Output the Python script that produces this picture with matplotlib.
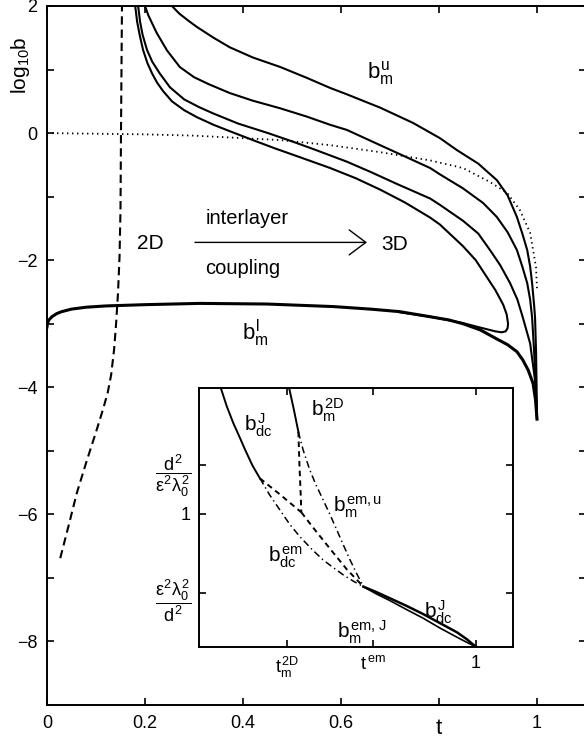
import matplotlib
matplotlib.use('Agg')
import matplotlib.pyplot as plt
from matplotlib.transforms import blended_transform_factory

plt.rcParams['font.family'] = ['Liberation Sans', 'DejaVu Sans']
plt.rcParams['mathtext.fontset'] = 'custom'
plt.rcParams['mathtext.rm'] = 'Liberation Sans'
plt.rcParams['mathtext.it'] = 'Liberation Sans'
plt.rcParams['mathtext.bf'] = 'Liberation Sans:bold'
plt.rcParams['mathtext.sf'] = 'Liberation Sans'
plt.rcParams['lines.scale_dashes'] = False

# ---------------- main panel data (t, log10 b) ----------------
curve_a_t = [0.180, 0.184, 0.189, 0.196, 0.205, 0.215, 0.225, 0.237, 0.255, 0.280,
             0.306, 0.340, 0.373, 0.420, 0.465, 0.520, 0.578, 0.630, 0.680, 0.730,
             0.782, 0.802, 0.849, 0.875, 0.898, 0.915, 0.931, 0.938, 0.941, 0.940,
             0.936, 0.928, 0.915, 0.884, 0.849, 0.782, 0.720]
curve_a_y = [2.0, 1.75, 1.55, 1.31, 1.10, 0.93, 0.79, 0.66, 0.50, 0.36,
             0.25, 0.13, 0.03, -0.11, -0.24, -0.39, -0.55, -0.71, -0.89, -1.09,
             -1.33, -1.44, -1.78, -2.00, -2.27, -2.47, -2.70, -2.85, -3.00, -3.07,
             -3.12, -3.135, -3.12, -3.06, -2.99, -2.89, -2.82]

curve_b_t = [0.186, 0.190, 0.195, 0.204, 0.215, 0.230, 0.251, 0.280, 0.310, 0.339,
             0.390, 0.451, 0.500, 0.543, 0.612, 0.660, 0.714, 0.782, 0.802, 0.849,
             0.880, 0.904, 0.925, 0.945, 0.960, 0.971, 0.986, 0.996, 1.0]
curve_b_y = [2.0, 1.75, 1.55, 1.31, 1.12, 0.94, 0.72, 0.53, 0.41, 0.31,
             0.15, 0.0, -0.13, -0.25, -0.45, -0.61, -0.80, -1.03, -1.13, -1.38,
             -1.58, -1.84, -2.08, -2.36, -2.62, -2.90, -3.31, -3.89, -4.5]

curve_c_t = [0.200, 0.207, 0.215, 0.224, 0.245, 0.271, 0.300, 0.330, 0.373, 0.420,
             0.476, 0.530, 0.578, 0.612, 0.660, 0.714, 0.782, 0.802, 0.849, 0.890,
             0.918, 0.940, 0.959, 0.970, 0.980, 0.986, 0.990, 0.994, 0.997, 1.0]
curve_c_y = [2.0, 1.85, 1.72, 1.575, 1.30, 1.04, 0.88, 0.77, 0.63, 0.51,
             0.39, 0.26, 0.13, 0.05, -0.12, -0.31, -0.55, -0.65, -0.87, -1.10,
             -1.32, -1.56, -1.84, -2.10, -2.36, -2.62, -2.90, -3.42, -3.90, -4.5]

curve_d_t = [0.255, 0.270, 0.290, 0.306, 0.340, 0.373, 0.420, 0.476, 0.530, 0.578,
             0.612, 0.680, 0.747, 0.802, 0.837, 0.880, 0.918, 0.940, 0.959, 0.970,
             0.980, 0.986, 0.990, 0.994, 0.996, 0.998, 0.999, 1.0]
curve_d_y = [2.0, 1.88, 1.76, 1.67, 1.50, 1.35, 1.19, 1.04, 0.87, 0.71,
             0.61, 0.40, 0.16, -0.08, -0.27, -0.48, -0.74, -0.98, -1.32, -1.58,
             -1.84, -2.10, -2.36, -2.70, -2.90, -3.42, -3.90, -4.5]

bml_t = [0.0, 0.001, 0.004, 0.010, 0.020, 0.030, 0.050, 0.080, 0.120, 0.200,
         0.312, 0.449, 0.584, 0.660, 0.720, 0.782, 0.820, 0.849, 0.885, 0.918,
         0.940, 0.959, 0.971, 0.982, 0.992, 0.997, 1.0]
bml_y = [-3.05, -2.99, -2.94, -2.89, -2.84, -2.81, -2.77, -2.74, -2.72, -2.70,
         -2.68, -2.69, -2.73, -2.77, -2.81, -2.89, -2.94, -3.00, -3.10, -3.24,
         -3.33, -3.44, -3.57, -3.73, -3.94, -4.20, -4.5]

b2d_t = [0.027, 0.044, 0.061, 0.081, 0.101, 0.115, 0.124, 0.131, 0.137, 0.141,
         0.145, 0.148, 0.150, 0.151, 0.152, 0.153]
b2d_y = [-6.69, -6.18, -5.66, -5.16, -4.68, -4.33, -4.08, -3.80, -3.40, -3.00,
         -2.50, -1.95, -1.20, 0.0, 1.0, 2.0]

dot_t = [0.0, 0.1, 0.2, 0.3, 0.4, 0.476, 0.578, 0.680, 0.782, 0.849, 0.904,
         0.939, 0.965, 0.986, 0.998, 1.0]
dot_y = [0.0, -0.01, -0.02, -0.04, -0.08, -0.11, -0.19, -0.30, -0.43, -0.55, -0.77,
         -0.94, -1.21, -1.57, -2.11, -2.45]

x_ticks = [0, 0.2, 0.4, 0.6, 0.8, 1.0]
x_ticklabels = ['0', '0.2', '0.4', '0.6', '', '1']
y_ticks = [-8, -7, -6, -5, -4, -3, -2, -1, 0, 1, 2]
y_ticklabels = ['\u22128', '', '\u22126', '', '\u22124', '', '\u22122', '', '0', '', '2']

# ---------------- inset data ----------------
in_bdcj1_x = [0.309, 0.325, 0.343, 0.360, 0.375, 0.395, 0.415]
in_bdcj1_y = [1.0, 0.93, 0.864, 0.81, 0.761, 0.70, 0.651]

in_b2d_x = [0.494, 0.507, 0.519]
in_b2d_y = [1.0, 0.915, 0.831]

in_dash_v_x = [0.519, 0.522, 0.525, 0.527]
in_dash_v_y = [0.831, 0.70, 0.60, 0.52]

in_dash_l_x = [0.415, 0.470, 0.527]
in_dash_l_y = [0.651, 0.588, 0.52]

in_dash_d_x = [0.527, 0.565, 0.610, 0.650, 0.695]
in_dash_d_y = [0.52, 0.45, 0.37, 0.30, 0.233]

in_emu_x = [0.519, 0.532, 0.550, 0.567, 0.586, 0.605, 0.623, 0.641, 0.659, 0.677, 0.695]
in_emu_y = [0.831, 0.76, 0.683, 0.625, 0.568, 0.51, 0.452, 0.393, 0.336, 0.283, 0.233]

in_dcem_x = [0.415, 0.440, 0.469, 0.495, 0.523, 0.555, 0.586, 0.615, 0.641, 0.668, 0.695]
in_dcem_y = [0.651, 0.59, 0.529, 0.475, 0.426, 0.378, 0.336, 0.305, 0.278, 0.254, 0.233]

in_bdcj2_x = [0.695, 0.730, 0.767, 0.810, 0.857, 0.900, 0.948, 0.975, 1.0]
in_bdcj2_y = [0.233, 0.212, 0.188, 0.160, 0.127, 0.094, 0.057, 0.030, 0.0]

in_emj_x = [0.695, 0.730, 0.767, 0.810, 0.857, 0.900, 0.948, 0.975, 1.0]
in_emj_y = [0.233, 0.205, 0.179, 0.146, 0.111, 0.075, 0.038, 0.018, 0.0]

in_x_ticks = [0.488, 0.721, 1.0]
in_x_ticklabels = [r'$t_m^{2D}$', r'$t^{\,em}$', '1']
in_y_ticks = [0.208, 0.514, 0.703]
in_y_ticklabels = [r'$\dfrac{\varepsilon^2\lambda_0^2}{d^2}$', '1',
                   r'$\dfrac{d^2}{\varepsilon^2\lambda_0^2}$']

# ---------------- figure ----------------
W, H = 584, 743
fig = plt.figure(figsize=(W / 100, H / 100), dpi=100)
ax = fig.add_axes([47 / W, 38 / H, 539 / W, 699 / H])

lw = 1.5
ax.plot(curve_a_t, curve_a_y, color='black', lw=lw)
ax.plot(curve_b_t, curve_b_y, color='black', lw=lw)
ax.plot(curve_c_t, curve_c_y, color='black', lw=lw)
ax.plot(curve_d_t, curve_d_y, color='black', lw=lw)
ax.plot(bml_t, bml_y, color='black', lw=2.2)
ax.plot(b2d_t, b2d_y, color='black', lw=1.5, linestyle=(0, (6, 3.5)))
ax.plot(dot_t, dot_y, color='black', lw=1.3, linestyle=(0, (1, 2.6)))

ax.set_xlim(0, 1.1)
ax.set_ylim(-9, 2)
ax.set_xticks(x_ticks)
ax.set_xticklabels(x_ticklabels)
ax.set_yticks(y_ticks)
ax.set_yticklabels(y_ticklabels)
ax.tick_params(direction='in', length=5, width=1.2, labelsize=13, pad=7,
               top=True, right=True)
for s in ax.spines.values():
    s.set_linewidth(1.4)

ax.set_ylabel(r'log$_{10}$b', fontsize=15)
ax.yaxis.set_label_coords(-0.028, 0.915)
trans = blended_transform_factory(ax.transData, ax.transAxes)
ax.text(0.8, -0.033, 't', transform=trans, fontsize=16, ha='center', va='center')

ax.text(0.68, 0.94, r'$b_m^u$', fontsize=16, ha='center', va='center')
ax.text(0.424, -3.15, r'$b_m^l$', fontsize=16, ha='center', va='center')
ax.text(0.21, -1.73, '2D', fontsize=15, ha='center', va='center')
ax.text(0.71, -1.76, '3D', fontsize=15, ha='center', va='center')
ax.text(0.408, -1.34, 'interlayer', fontsize=14.5, ha='center', va='center')
ax.text(0.40, -2.13, 'coupling', fontsize=14.5, ha='center', va='center')
ax.annotate('', xy=(0.653, -1.72), xytext=(0.302, -1.72),
            arrowprops=dict(arrowstyle='->,head_length=0.6,head_width=0.45',
                            lw=1.0, color='black', mutation_scale=20,
                            shrinkA=0, shrinkB=0))

# ---------------- inset ----------------
ins = fig.add_axes([199 / W, (H - 647) / H, 314 / W, 259 / H])
ins.set_zorder(5)
ins.set_facecolor('white')
ilw = 1.4
dashdot = (0, (5, 2.5, 1, 2.5))
dashed = (0, (4, 3))
ins.plot(in_bdcj1_x, in_bdcj1_y, color='black', lw=ilw)
ins.plot(in_b2d_x, in_b2d_y, color='black', lw=ilw)
ins.plot(in_dash_v_x, in_dash_v_y, color='black', lw=ilw, linestyle=dashed)
ins.plot(in_dash_l_x, in_dash_l_y, color='black', lw=ilw, linestyle=dashed)
ins.plot(in_dash_d_x, in_dash_d_y, color='black', lw=ilw, linestyle=dashed)
ins.plot(in_emu_x, in_emu_y, color='black', lw=1.1, linestyle=dashdot)
ins.plot(in_dcem_x, in_dcem_y, color='black', lw=1.1, linestyle=dashdot)
ins.plot(in_bdcj2_x, in_bdcj2_y, color='black', lw=1.8)
ins.plot(in_emj_x, in_emj_y, color='black', lw=1.2)

ins.set_xlim(0.25, 1.1)
ins.set_ylim(0, 1)
ins.set_xticks(in_x_ticks)
ins.set_xticklabels(in_x_ticklabels)
ins.set_yticks(in_y_ticks)
ins.set_yticklabels(in_y_ticklabels)
ins.tick_params(direction='in', length=5, width=1.2, labelsize=13, pad=6,
                top=True, right=True)
for s in ins.spines.values():
    s.set_linewidth(1.4)

ins.text(0.410, 0.857, r'$b_{dc}^J$', fontsize=15, ha='center', va='center')
ins.text(0.597, 0.915, r'$b_m^{2D}$', fontsize=15, ha='center', va='center')
ins.text(0.678, 0.541, r'$b_m^{em,u}$', fontsize=15, ha='center', va='center')
ins.text(0.483, 0.347, r'$b_{dc}^{em}$', fontsize=15, ha='center', va='center')
ins.text(0.897, 0.135, r'$b_{dc}^J$', fontsize=15, ha='center', va='center')
ins.text(0.691, 0.058, r'$b_m^{em,\,J}$', fontsize=15, ha='center', va='center')

fig.savefig('out.png', dpi=100)
